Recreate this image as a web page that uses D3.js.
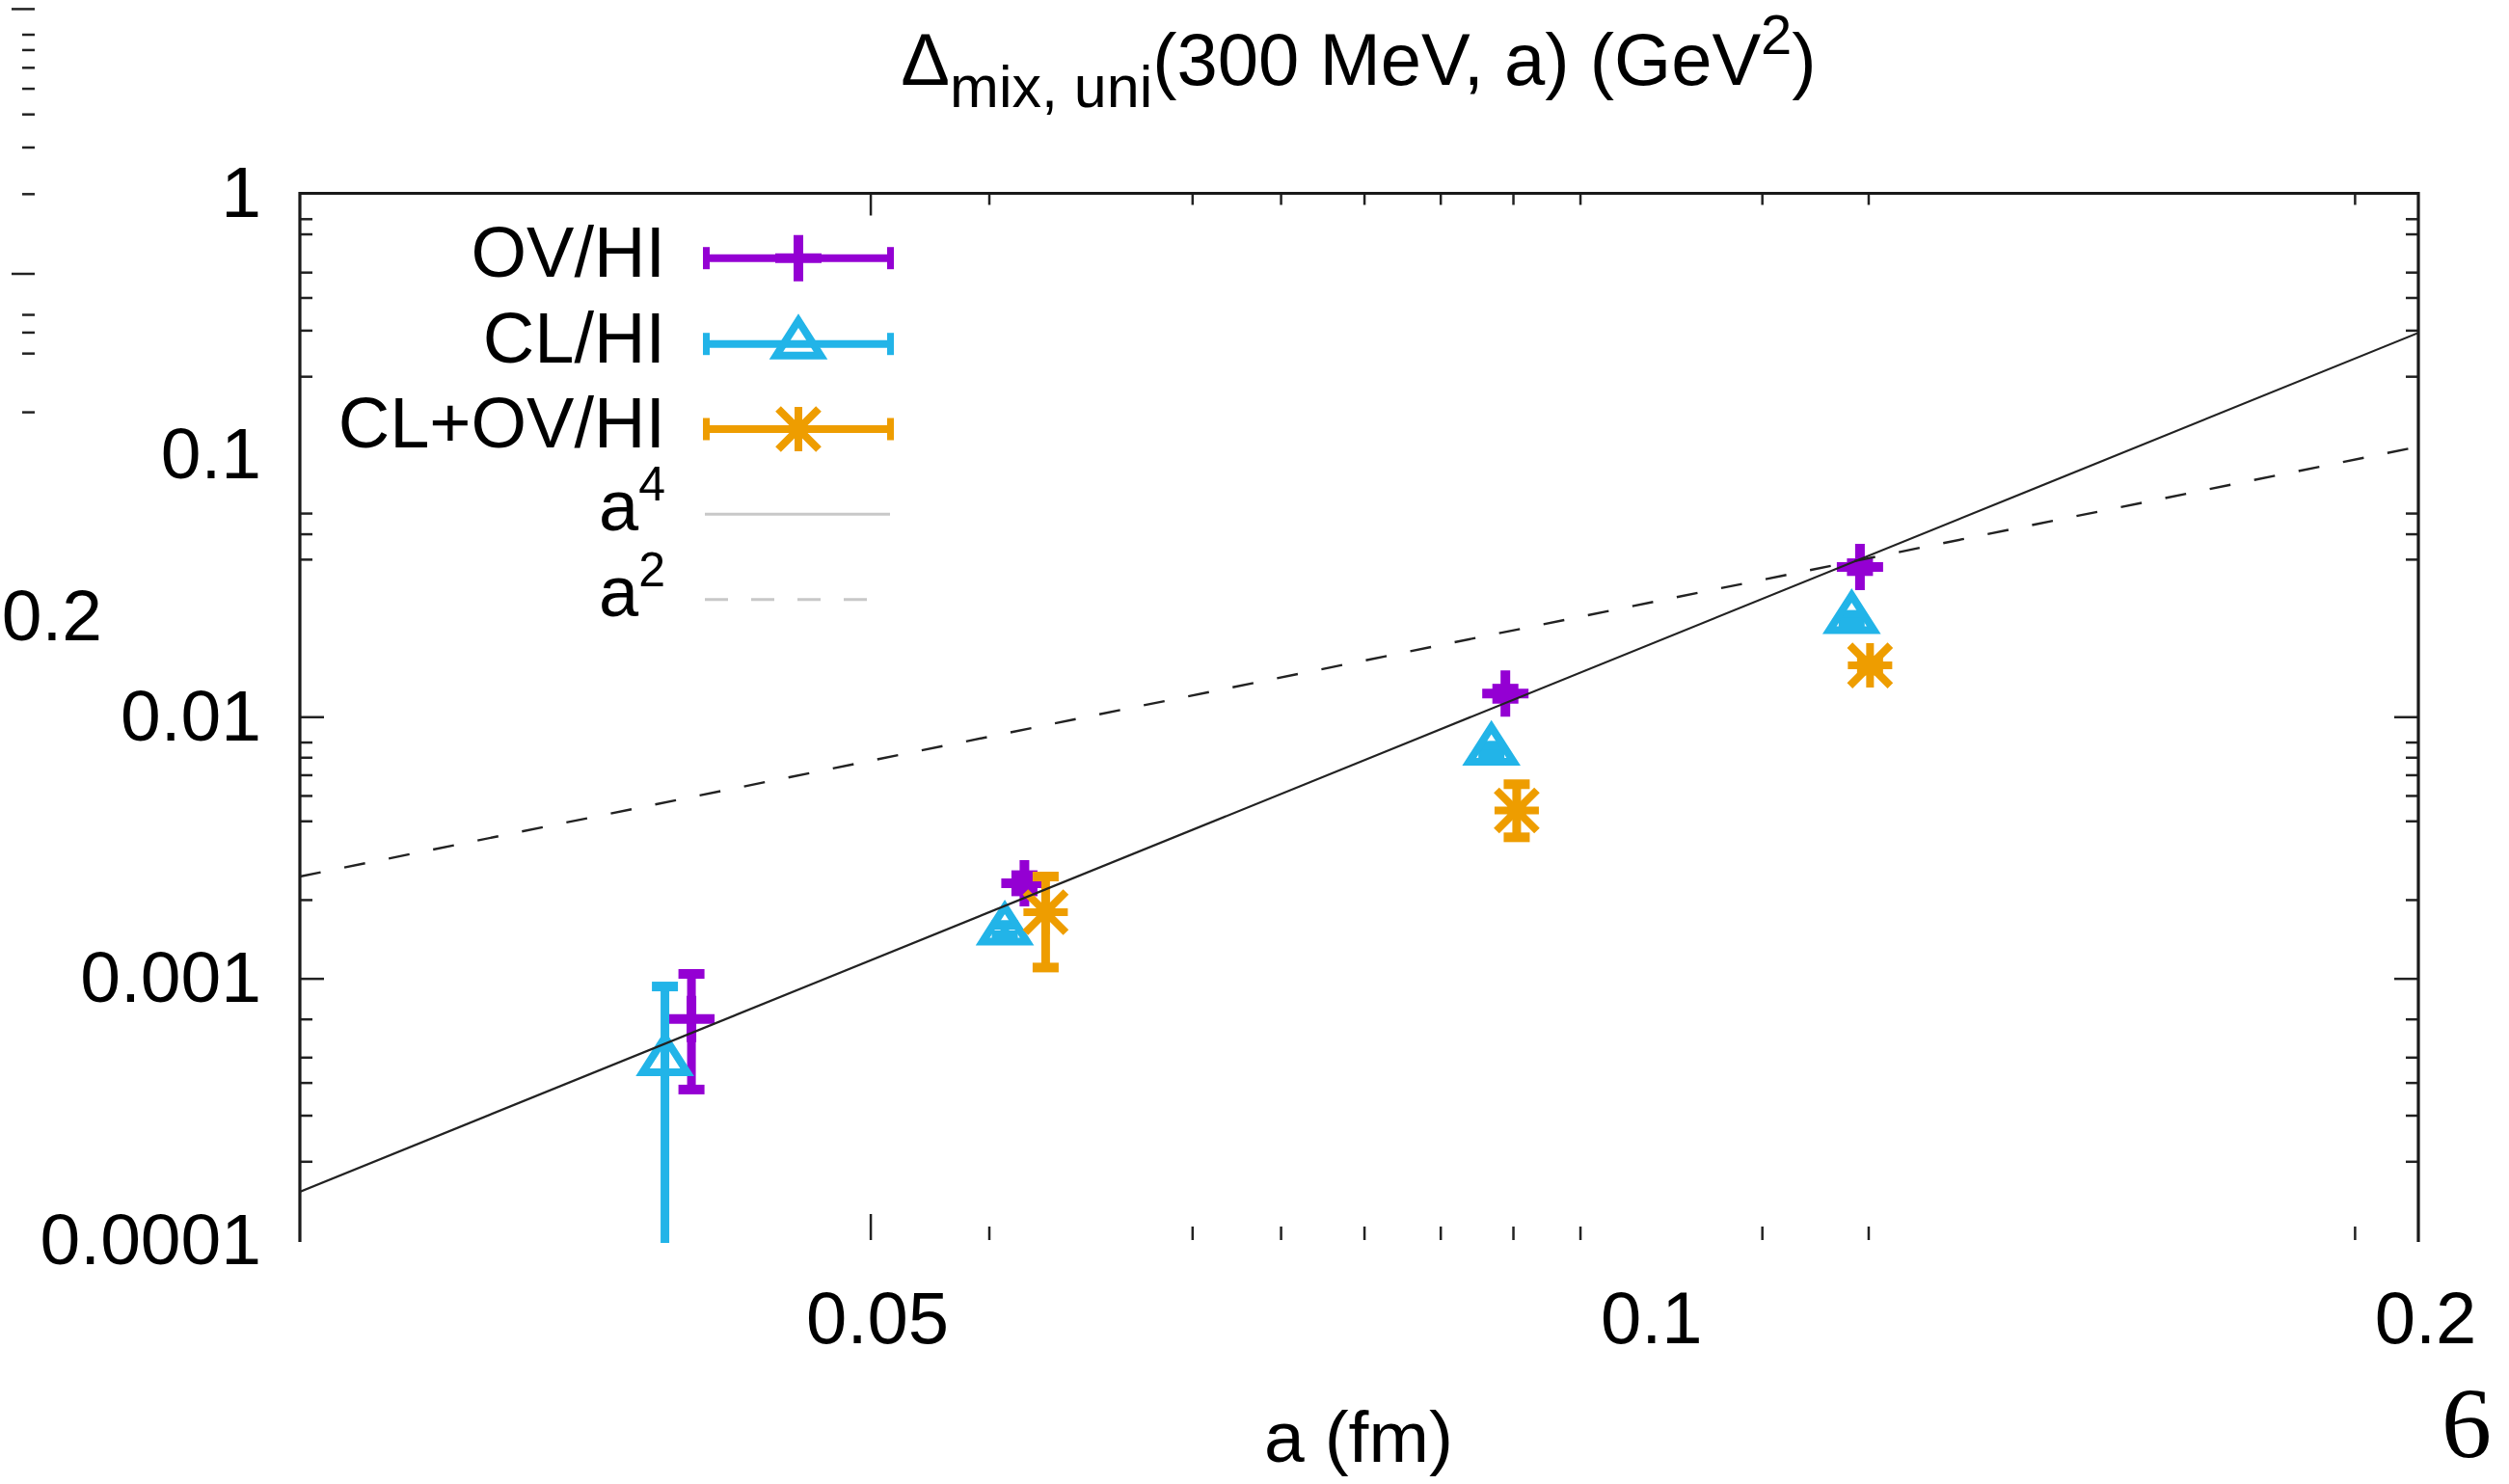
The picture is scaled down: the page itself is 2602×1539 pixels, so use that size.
<!DOCTYPE html>
<html><head><meta charset="utf-8">
<script src="https://cdn.jsdelivr.net/npm/d3@7"></script>
<style>html,body{margin:0;padding:0;background:#fff;} svg{display:block;}</style>
</head><body>
<script>
// ---------------- data ----------------
const seriesNames   = ["OV/HI", "CL/HI", "CL+OV/HI"];
const seriesColors  = ["#9400D3", "#22B4E8", "#EE9D00"];
const seriesMarkers = ["plus", "triangle", "star"];

const ovA   = [0.0426, 0.0574, 0.0883, 0.1213];
const ovVal = [7.0e-4, 2.31e-3, 0.01225, 0.0373];
const ovLo  = [3.76e-4, 2.15e-3, 0.0117, 0.0360];
const ovHi  = [1.04e-3, 2.48e-3, 0.0128, 0.0386];

const clA   = [0.0416, 0.0564, 0.0872, 0.1204];
const clVal = [4.85e-4, 1.53e-3, 7.44e-3, 0.0237];
const clLo  = [5.0e-5, 1.46e-3, 7.15e-3, 0.0229];
const clHi  = [9.31e-4, 1.60e-3, 7.75e-3, 0.0245];

const orA   = [0.0585, 0.0892, 0.1224];
const orVal = [1.79e-3, 4.38e-3, 0.0157];
const orLo  = [1.10e-3, 3.46e-3, 0.0150];
const orHi  = [2.45e-3, 5.52e-3, 0.0164];

// reference power-law lines: endpoints read at a = 0.03 and a = 0.2
const fitBase = ["a", "a"];
const fitSup  = ["4", "2"];
const a4Line = [[0.03, 1.53e-4], [0.2, 0.293]];
const a2Line = [[0.03, 2.45e-3], [0.2, 0.1076]];

const yTickValues = [1, 0.1, 0.01, 0.001, 0.0001];
const yTickLabels = ["1", "0.1", "0.01", "0.001", "0.0001"];
const xTickValues = [0.05, 0.1, 0.2];
const xTickLabels = ["0.05", "0.1", "0.2"];
const yMarkMajor = [0.01, 0.001];
const yMarkMinor = [0.8, 0.7, 0.5, 0.4, 0.3, 0.2, 0.06, 0.05, 0.04,
                    0.008, 0.007, 0.006, 0.005, 0.004, 0.002,
                    0.0007, 0.0005, 0.0004, 0.0003, 0.0002];
const xMarkMajor = [0.05];
const xMarkMinor = [0.0556, 0.0667, 0.0722, 0.0778, 0.0833, 0.0889, 0.0944, 0.1111, 0.1222, 0.1889];
// stray axis from a neighbouring panel at the left edge
const sideMajor = [10, 1];
const sideMinor = [8, 7, 6, 5, 4, 3, 2, 0.7, 0.6, 0.5, 0.3];

const titleParts = ["Δ", "mix, uni", "(300 MeV, a) (GeV", "2", ")"];
const xLabel = "a (fm)";
const strayLabel = "0.2";
const pageNumber = "6";

// ---------------- layout ----------------
const W = 2602, H = 1539;
const L = 311, R = 2508, T = 200.5, B = 1286;
const FONT = "'Liberation Sans', Arial, Helvetica, sans-serif";

const svg = d3.select("body").append("svg")
  .attr("width", W).attr("height", H)
  .style("background", "#fff");

const x = d3.scaleLog().domain([0.03, 0.2]).range([L, R]);
const y = d3.scaleLog().domain([1e-4, 1]).range([B, T]);

svg.append("defs").append("clipPath").attr("id", "plotclip")
  .append("rect").attr("x", L).attr("y", T).attr("width", R - L).attr("height", B - T + 3);

function styleTicks(g, w) {
  g.select(".domain").remove();
  g.selectAll(".tick line").attr("stroke", "#222").attr("stroke-width", w);
}

// tick marks (inward)
const tickSets = [
  [d3.axisLeft,   y, yMarkMajor, 25, `translate(${L},0)`],
  [d3.axisLeft,   y, yMarkMinor, 13, `translate(${L},0)`],
  [d3.axisRight,  y, yMarkMajor, 25, `translate(${R},0)`],
  [d3.axisRight,  y, yMarkMinor, 13, `translate(${R},0)`],
  [d3.axisBottom, x, xMarkMajor, 27, `translate(0,${B})`],
  [d3.axisBottom, x, xMarkMinor, 14, `translate(0,${B})`],
  [d3.axisTop,    x, xMarkMajor, 23, `translate(0,${T})`],
  [d3.axisTop,    x, xMarkMinor, 12, `translate(0,${T})`]
];
tickSets.forEach(([ax, sc, vals, len, tr]) => {
  svg.append("g").attr("transform", tr)
    .call(ax(sc).tickValues(vals).tickSize(-len).tickFormat(""))
    .call(g => styleTicks(g, 2.5));
});

// tick labels
svg.append("g").attr("transform", `translate(${L},0)`)
  .call(d3.axisLeft(y).tickValues(yTickValues).tickSize(0).tickPadding(40)
        .tickFormat((d, i) => yTickLabels[i]))
  .call(g => { g.select(".domain").remove(); g.selectAll(".tick line").remove(); })
  .call(g => g.selectAll("text").attr("font-family", FONT).attr("font-size", 75).attr("fill", "#000"));

svg.append("g").attr("transform", `translate(0,${B})`)
  .call(d3.axisBottom(x).tickValues(xTickValues).tickSize(0).tickPadding(53)
        .tickFormat((d, i) => xTickLabels[i]))
  .call(g => { g.select(".domain").remove(); g.selectAll(".tick line").remove(); })
  .call(g => g.selectAll("text").attr("font-family", FONT).attr("font-size", 76)
        .attr("fill", "#000").attr("dx", 7));

// frame (no visible bottom border in the reference)
svg.append("path")
  .attr("d", `M${L},${B + 2}V${T}H${R}V${B + 2}`)
  .attr("fill", "none").attr("stroke", "#1a1a1a").attr("stroke-width", 3.2);

// ---------------- markers ----------------
function markerPath(type, cx, cy) {
  const p = d3.path();
  if (type === "plus") {
    p.moveTo(cx - 24, cy); p.lineTo(cx + 24, cy);
    p.moveTo(cx, cy - 24); p.lineTo(cx, cy + 24);
  } else if (type === "triangle") {
    p.moveTo(cx, cy - 24); p.lineTo(cx - 23, cy + 12); p.lineTo(cx + 23, cy + 12); p.closePath();
  } else if (type === "star") {
    p.moveTo(cx - 23, cy); p.lineTo(cx + 23, cy);
    p.moveTo(cx, cy - 23); p.lineTo(cx, cy + 23);
    p.moveTo(cx - 21, cy - 21); p.lineTo(cx + 21, cy + 21);
    p.moveTo(cx - 21, cy + 21); p.lineTo(cx + 21, cy - 21);
  }
  return p.toString();
}
const markerStroke = { plus: 10, triangle: 8, star: 8 };

const seriesData = [
  ovA.map((a, i) => ({ a, v: ovVal[i], lo: ovLo[i], hi: ovHi[i] })),
  clA.map((a, i) => ({ a, v: clVal[i], lo: clLo[i], hi: clHi[i] })),
  orA.map((a, i) => ({ a, v: orVal[i], lo: orLo[i], hi: orHi[i] }))
];

const plot = svg.append("g").attr("clip-path", "url(#plotclip)");
seriesData.forEach((data, s) => {
  const col = seriesColors[s];
  const g = plot.append("g");
  const eb = g.selectAll("g.eb").data(data).enter().append("g").attr("class", "eb");
  eb.append("line")
    .attr("x1", d => x(d.a)).attr("x2", d => x(d.a))
    .attr("y1", d => y(d.lo)).attr("y2", d => y(d.hi))
    .attr("stroke", col).attr("stroke-width", 9);
  eb.append("line")
    .attr("x1", d => x(d.a) - 13.5).attr("x2", d => x(d.a) + 13.5)
    .attr("y1", d => y(d.hi)).attr("y2", d => y(d.hi))
    .attr("stroke", col).attr("stroke-width", 10);
  eb.append("line")
    .attr("x1", d => x(d.a) - 13.5).attr("x2", d => x(d.a) + 13.5)
    .attr("y1", d => y(d.lo)).attr("y2", d => y(d.lo))
    .attr("stroke", col).attr("stroke-width", 10);
  g.selectAll("path.pt").data(data).enter().append("path").attr("class", "pt")
    .attr("d", d => markerPath(seriesMarkers[s], x(d.a), y(d.v)))
    .attr("fill", "none").attr("stroke", col)
    .attr("stroke-width", markerStroke[seriesMarkers[s]])
    .attr("stroke-linejoin", "miter").attr("stroke-miterlimit", 4);
});

// reference lines (drawn after the points, as in the original)
const line = d3.line().x(d => x(d[0])).y(d => y(d[1]));
plot.append("path").datum(a4Line).attr("d", line)
  .attr("fill", "none").attr("stroke", "#222").attr("stroke-width", 2.2);
plot.append("path").datum(a2Line).attr("d", line)
  .attr("fill", "none").attr("stroke", "#222").attr("stroke-width", 2.4)
  .attr("stroke-dasharray", "22,25");

// ---------------- legend ----------------
const legTextX = 690, legX1 = 729, legX2 = 927, legMid = 828;
const legRows = [267.7, 356.7, 445, 533.3, 621.7];
const leg = svg.append("g");
seriesNames.forEach((name, s) => {
  const ry = legRows[s], col = seriesColors[s];
  leg.append("text").attr("x", legTextX).attr("y", ry + 19)
    .attr("text-anchor", "end").attr("font-family", FONT).attr("font-size", 74)
    .text(name);
  leg.append("line").attr("x1", legX1).attr("x2", legX2).attr("y1", ry).attr("y2", ry)
    .attr("stroke", col).attr("stroke-width", 8);
  [legX1 + 3.5, legX2 - 3.5].forEach(cx => {
    leg.append("line").attr("x1", cx).attr("x2", cx).attr("y1", ry - 11.5).attr("y2", ry + 11.5)
      .attr("stroke", col).attr("stroke-width", 7);
  });
  leg.append("path").attr("d", markerPath(seriesMarkers[s], legMid, ry))
    .attr("fill", "none").attr("stroke", col)
    .attr("stroke-width", markerStroke[seriesMarkers[s]]);
});
fitBase.forEach((b, k) => {
  const ry = legRows[3 + k];
  const t = leg.append("text").attr("x", legTextX).attr("y", ry + 17)
    .attr("text-anchor", "end").attr("font-family", FONT).attr("font-size", 74);
  t.append("tspan").text(b);
  t.append("tspan").attr("font-size", 50).attr("dy", -31).text(fitSup[k]);
  const ln = leg.append("line").attr("x1", legX1 + 2).attr("y1", ry).attr("y2", ry)
    .attr("stroke", "#c8c8c8").attr("stroke-width", 3);
  if (k === 0) ln.attr("x2", legX2 - 4);
  else ln.attr("x2", 900).attr("stroke-dasharray", "24,24");
});

// ---------------- titles & stray text ----------------
const title = svg.append("text").attr("x", 1409).attr("y", 88)
  .attr("text-anchor", "middle").attr("font-family", FONT).attr("font-size", 76);
title.append("tspan").text(titleParts[0]);
title.append("tspan").attr("font-size", 61).attr("dy", 23).text(titleParts[1]);
title.append("tspan").attr("dy", -23).text(titleParts[2]);
title.append("tspan").attr("font-size", 58).attr("dy", -32).text(titleParts[3]);
title.append("tspan").attr("dy", 32).text(titleParts[4]);

svg.append("text").attr("x", 1409).attr("y", 1516)
  .attr("text-anchor", "middle").attr("font-family", FONT).attr("font-size", 75)
  .text(xLabel);

// neighbouring-panel remnants at the left edge
const side = d3.scaleLog().domain([1, 10]).range([283.5, 8.9]);
svg.append("g").attr("transform", "translate(36,0)")
  .call(d3.axisLeft(side).tickValues(sideMajor).tickSize(24).tickFormat(""))
  .call(g => styleTicks(g, 2.5));
svg.append("g").attr("transform", "translate(36,0)")
  .call(d3.axisLeft(side).tickValues(sideMinor).tickSize(13).tickFormat(""))
  .call(g => styleTicks(g, 2.5));
svg.append("text").attr("x", 106).attr("y", 664).attr("text-anchor", "end")
  .attr("font-family", FONT).attr("font-size", 75).text(strayLabel);

svg.append("text").attr("x", 2584).attr("y", 1511).attr("text-anchor", "end")
  .attr("font-family", "'Liberation Serif', 'Times New Roman', serif").attr("font-size", 104)
  .text(pageNumber);
</script>
</body></html>
